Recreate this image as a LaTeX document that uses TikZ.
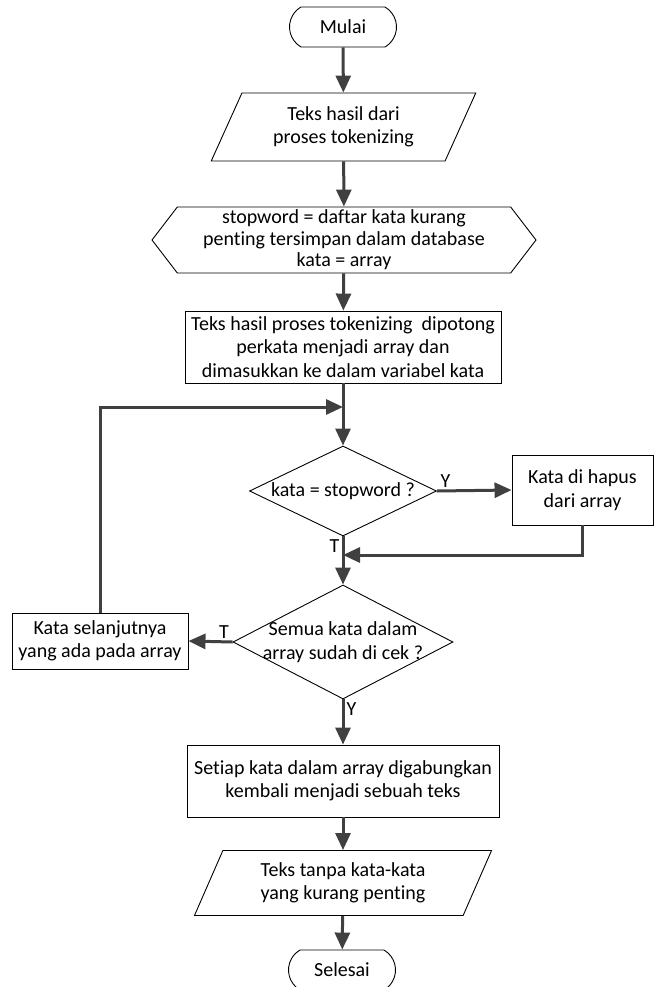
\documentclass[tikz,border=0pt]{standalone}
\usepackage{fontspec}
\setmainfont{Carlito}[Ligatures=NoCommon]
\usepackage{tikz}
\usetikzlibrary{arrows.meta,shapes.geometric,shapes.misc,shapes.symbols}
\definecolor{linegray}{RGB}{64,64,64}

\tikzset{
  base/.style={draw=black,line width=0.9pt,align=center,inner sep=2pt,
    font=\fontsize{20}{23.5}\selectfont},
  terminal/.style={base,rounded rectangle,rounded rectangle arc length=120,
    minimum width=111pt,minimum height=40pt},
  io/.style={base,trapezium,trapezium stretches=true,
    trapezium left angle=64,trapezium right angle=116},
  prep/.style={base,signal,signal to=west and east,signal pointer angle=105,
    minimum width=384pt,minimum height=66pt,inner sep=0pt,
    font=\fontsize{20}{21.5}\selectfont},
  process/.style={base,rectangle},
  decision/.style={base,diamond},
  flow/.style={draw=linegray,line width=3pt,-{Triangle[length=17pt,width=15pt]}},
  lbl/.style={font=\fontsize{20}{22}\selectfont,inner sep=3.5pt}
}

\begin{document}
\begin{tikzpicture}[x=1pt,y=-1pt]
  \useasboundingbox (0,0) rectangle (655,987);

  % Start and input
  \node[terminal] (mulai) at (343,27) {Mulai};
  \node[io,minimum width=265pt,minimum height=68pt] (input) at (343.5,127)
    {Teks hasil dari\\proses tokenizing};

  % Preparation
  \node[prep] (init) at (344,240)
    {stopword = daftar kata kurang\\penting tersimpan dalam database\\kata = array};

  % Split into words
  \node[process,minimum width=316pt,minimum height=72pt,inner sep=0pt] (split) at (343,347)
    {Teks hasil proses tokenizing~~dipotong\\perkata menjadi array dan\\dimasukkan ke dalam variabel kata};

  % Decisions
  \node[decision,aspect=2.08,inner sep=-5pt,minimum width=187pt,minimum height=90pt] (cek) at (343,491)
    {kata = stopword ?};
  \node[process,minimum width=141pt,minimum height=70pt] (hapus) at (582.5,490)
    {Kata di hapus\\dari array};
  \node[decision,aspect=1.93,inner sep=-9pt,minimum width=220pt,minimum height=114pt] (semua) at (343,642)
    {Semua kata dalam\\array sudah di cek ?};
  \node[process,minimum width=176pt,minimum height=56pt] (lanjut) at (100,641)
    {Kata selanjutnya\\yang ada pada array};

  % Join and output
  \node[process,minimum width=312pt,minimum height=72pt] (gabung) at (343,781)
    {Setiap kata dalam array digabungkan\\kembali menjadi sebuah teks};
  \node[io,minimum width=298pt,minimum height=65pt,trapezium left angle=66,
    trapezium right angle=114] (output) at (343,883)
    {Teks tanpa kata-kata\\yang kurang penting};
  \node[terminal] (selesai) at (342,970) {Selesai};

  % Joints
  \coordinate (loopin) at (343,407);
  \coordinate (backin) at (343,555);

  % Connectors
  \draw[flow] (mulai) -- (input);
  \draw[flow] (input) -- (init);
  \draw[flow] (init) -- (split);
  \draw[flow] (split) -- (cek);
  \draw[flow] (lanjut.north) |- (loopin);
  \draw[flow] (cek.east) -- (hapus.west);
  \node[lbl,above right] (ya1) at (cek.east) {Y};
  \draw[flow] (cek.south) -- (semua.north);
  \node[lbl,below left] (tidak1) at (cek.south) {T};
  \draw[flow] (hapus.south) |- (backin);
  \draw[flow] (semua.west) -- (lanjut.east);
  \node[lbl,above left] (tidak2) at (semua.west) {T};
  \draw[flow] (semua.south) -- (gabung.north);
  \node[lbl,below right] (ya2) at (semua.south) {Y};
  \draw[flow] (gabung) -- (output);
  \draw[flow] (output) -- (selesai);
\end{tikzpicture}
\end{document}
